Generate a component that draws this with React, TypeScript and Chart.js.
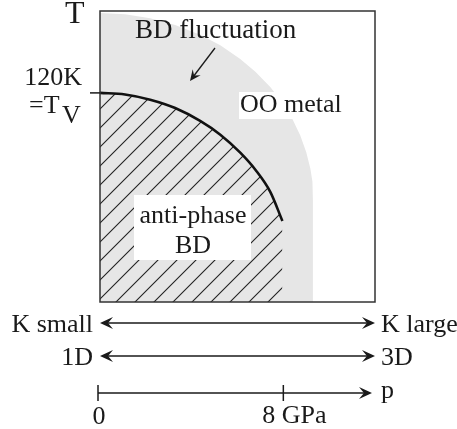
import React, { useEffect, useRef } from "react";
import { Chart, registerables } from "chart.js";

Chart.register(...registerables);

// Pressure axis (GPa) and temperature axis (K) ranges of the frame
const pressureMax = 12;
const temperatureMax = 167;
const tvTemperature = 120;

// Outer edge of the grey "BD fluctuation" region (p in GPa, T in K)
const fluctuationP = [0, 1.09, 2.19, 3.28, 4.37, 5.25, 6.12, 6.78, 7.43, 7.96, 8.39, 8.74, 9.0, 9.18, 9.27, 9.29, 9.29];
const fluctuationT = [165.9, 165.2, 162.9, 159.0, 153.3, 147.3, 139.5, 132.2, 123.4, 114.4, 105.1, 95.5, 85.9, 76.5, 69.0, 58.6, 0];

// T_V(p) transition line bounding the hatched anti-phase BD region
const tvP = [0, 1.09, 2.19, 3.28, 4.37, 5.25, 6.12, 6.78, 7.43, 7.96];
const tvT = [120, 119.1, 116.1, 111.3, 103.9, 96.0, 85.7, 75.9, 63.2, 46.5];

// Pressure scale arrow ticks
const pressureTicks = [0, 8];
const pressureTickLabels = ["0", "8 GPa"];

// Texts
const rowLabelsLeft = ["K small", "1D"];
const rowLabelsRight = ["K large", "3D"];

const FONT = '"Liberation Serif", "Times New Roman", serif';
const INK = "#1a1a1a";

function makeHatch(): CanvasPattern | string {
  const s = 19;
  const c = document.createElement("canvas");
  c.width = s;
  c.height = s;
  const g = c.getContext("2d");
  if (!g) return "#888";
  g.fillStyle = "#e6e6e6";
  g.fillRect(0, 0, s, s);
  g.strokeStyle = "#222";
  g.lineWidth = 1.1;
  g.beginPath();
  g.moveTo(-2, s + 2);
  g.lineTo(s + 2, -2);
  g.moveTo(-2, 2);
  g.lineTo(2, -2);
  g.moveTo(s - 2, s + 2);
  g.lineTo(s + 2, s - 2);
  g.stroke();
  const p = g.createPattern(c, "repeat");
  return p || "#888";
}

function arrowHead(ctx: CanvasRenderingContext2D, x: number, y: number, angle: number, len = 13, half = 6) {
  ctx.save();
  ctx.translate(x, y);
  ctx.rotate(angle);
  ctx.beginPath();
  ctx.moveTo(0, 0);
  ctx.lineTo(-len, -half);
  ctx.lineTo(-len * 0.62, 0);
  ctx.lineTo(-len, half);
  ctx.closePath();
  ctx.fill();
  ctx.restore();
}

const annotate = {
  id: "annotate",
  afterDatasetsDraw(chart: any) {
    const { ctx, chartArea: a, scales } = chart;
    const xs = scales.x;
    const ys = scales.y;
    const L = a.left;
    const T = a.top;
    const B = a.bottom;
    ctx.save();

    // white label boxes
    ctx.fillStyle = "#ffffff";
    ctx.fillRect(L + 34, T + 184, 117, 65);
    ctx.fillRect(L + 139, T + 81, 108, 27);

    // frame
    ctx.strokeStyle = "#333";
    ctx.lineWidth = 1.5;
    ctx.strokeRect(a.left, a.top, a.right - a.left, a.bottom - a.top);

    // T_V tick
    const yTv = ys.getPixelForValue(tvTemperature);
    ctx.strokeStyle = INK;
    ctx.lineWidth = 1.5;
    ctx.beginPath();
    ctx.moveTo(L - 10, yTv);
    ctx.lineTo(L, yTv);
    ctx.stroke();

    ctx.fillStyle = INK;
    ctx.textBaseline = "alphabetic";

    // axis letter
    ctx.font = `32px ${FONT}`;
    ctx.textAlign = "left";
    ctx.fillText("T", 65, 23);

    ctx.font = `26px ${FONT}`;
    ctx.textAlign = "right";
    ctx.fillText("120K", L - 18, yTv - 8);
    ctx.textAlign = "left";
    ctx.fillText("=T", 29, yTv + 20);
    ctx.fillText("V", 62, yTv + 30);

    // region labels
    ctx.font = `27px ${FONT}`;
    ctx.fillText("BD fluctuation", L + 35, T + 27);
    ctx.font = `26px ${FONT}`;
    ctx.fillText("OO metal", L + 140, T + 101);
    ctx.textAlign = "center";
    ctx.fillText("anti-phase", L + 93, T + 212);
    ctx.fillText("BD", L + 93, T + 242);

    // arrow to fluctuation region
    ctx.lineWidth = 1.3;
    ctx.strokeStyle = INK;
    const ax0 = L + 115, ay0 = T + 37, ax1 = L + 90, ay1 = T + 70;
    ctx.beginPath();
    ctx.moveTo(ax0, ay0);
    ctx.lineTo(ax1 + 3, ay1 - 4);
    ctx.stroke();
    arrowHead(ctx, ax1, ay1, Math.atan2(ay1 - ay0, ax1 - ax0), 11, 5);

    // bottom double arrows
    const x0 = xs.getPixelForValue(0);
    const x1 = xs.getPixelForValue(pressureMax);
    const rows = [B + 21, B + 54];
    ctx.lineWidth = 1.5;
    rows.forEach((ry, i) => {
      ctx.beginPath();
      ctx.moveTo(x0 + 6, ry);
      ctx.lineTo(x1 - 6, ry);
      ctx.stroke();
      arrowHead(ctx, x0, ry, Math.PI);
      arrowHead(ctx, x1, ry, 0);
      ctx.textAlign = "right";
      ctx.fillText(rowLabelsLeft[i], x0 - 7, ry + 9);
      ctx.textAlign = "left";
      ctx.fillText(rowLabelsRight[i], x1 + 6, ry + 9);
    });

    // pressure arrow
    const py = B + 91;
    ctx.beginPath();
    ctx.moveTo(x0 - 2, py);
    ctx.lineTo(x1 - 6, py);
    ctx.stroke();
    arrowHead(ctx, x1 - 3, py, 0);
    ctx.fillText("p", x1 + 6, py + 5);
    pressureTicks.forEach((v, i) => {
      const tx = xs.getPixelForValue(v) - (i === 0 ? 2 : 0);
      ctx.beginPath();
      ctx.moveTo(tx, py - 8);
      ctx.lineTo(tx, py + 8);
      ctx.stroke();
      if (i === 0) {
        ctx.textAlign = "center";
        ctx.fillText(pressureTickLabels[i], tx + 1, py + 31);
      } else {
        ctx.textAlign = "left";
        ctx.fillText(pressureTickLabels[i], tx - 21, py + 30);
      }
    });

    ctx.restore();
  },
};

export default function App() {
  const ref = useRef<HTMLCanvasElement | null>(null);
  useEffect(() => {
    if (!ref.current) return;
    const fluct = fluctuationP.map((p, i) => ({ x: p, y: fluctuationT[i] }));
    const tv = tvP.map((p, i) => ({ x: p, y: tvT[i] }));
    const hatch = [...tvP.map((p, i) => ({ x: p, y: tvT[i] })), { x: tvP[tvP.length - 1], y: 0 }];
    const chart = new Chart(ref.current, {
      type: "scatter",
      data: {
        datasets: [
          {
            data: fluct,
            order: 3,
            showLine: true,
            fill: "origin",
            backgroundColor: "#e6e6e6",
            borderColor: "rgba(0,0,0,0)",
            borderWidth: 0,
            pointRadius: 0,
            tension: 0,
          },
          {
            data: hatch,
            order: 2,
            showLine: true,
            fill: "origin",
            backgroundColor: makeHatch() as any,
            borderColor: "rgba(0,0,0,0)",
            borderWidth: 0,
            pointRadius: 0,
            tension: 0,
          },
          {
            data: tv,
            order: 1,
            showLine: true,
            fill: false,
            borderColor: "#111",
            borderWidth: 2.6,
            pointRadius: 0,
            cubicInterpolationMode: "monotone",
          },
        ],
      },
      options: {
        responsive: false,
        animation: false,
        events: [],
        layout: { padding: { left: 100, top: 11, right: 82, bottom: 127 } },
        scales: {
          x: { type: "linear", min: 0, max: pressureMax, display: false },
          y: { type: "linear", min: 0, max: temperatureMax, display: false },
        },
        plugins: { legend: { display: false }, tooltip: { enabled: false } },
      },
      plugins: [annotate],
    });
    return () => chart.destroy();
  }, []);
  return (
    <div style={{ position: "fixed", left: 0, top: 0, width: 457, height: 429, background: "#fff" }}>
      <canvas ref={ref} width={457} height={429} />
    </div>
  );
}
